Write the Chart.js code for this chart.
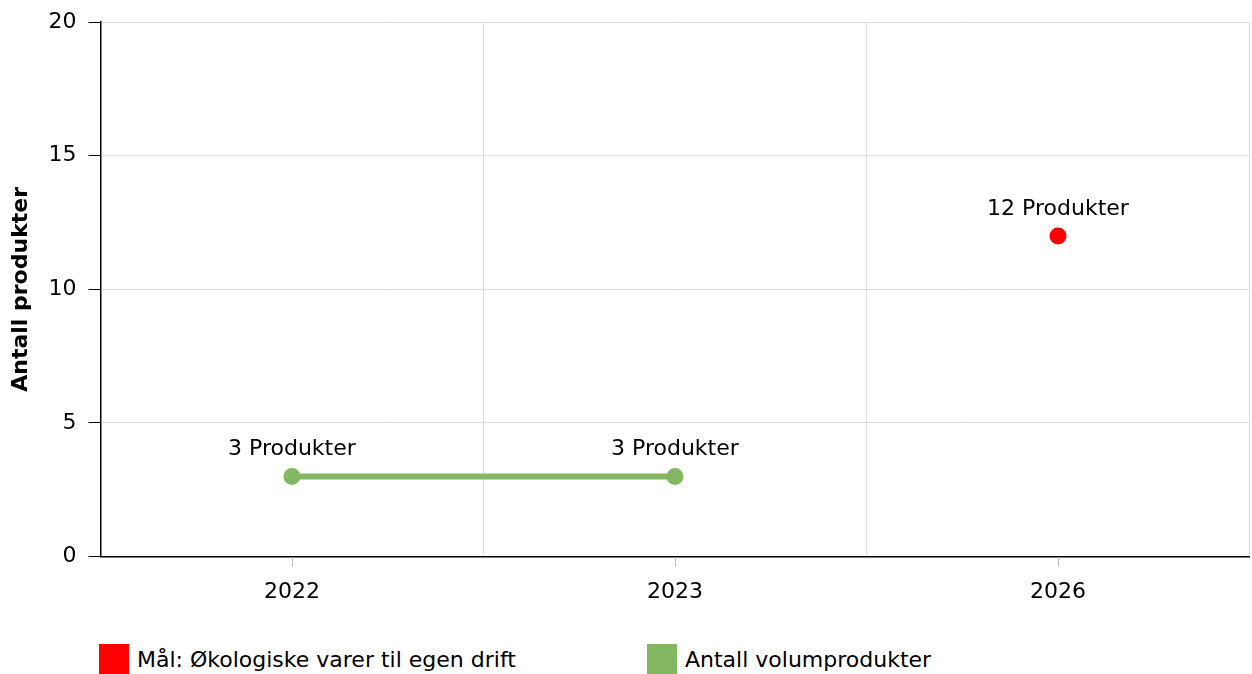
<!DOCTYPE html>
<html>
<head>
<meta charset="utf-8">
<script src="https://cdn.jsdelivr.net/npm/chart.js@4"></script>
<style>
  html, body { margin: 0; background: #fff; font-family: "DejaVu Sans", sans-serif; overflow: hidden; }
  #wrap { position: relative; width: 1258px; height: 627px; }
  #legend { position: absolute; top: 644px; left: 99px; display: flex; font-size: 22px; color: #000; }
  .item { display: flex; align-items: center; height: 30px; }
  .box { width: 30px; height: 30px; margin-right: 8px; }
</style>
</head>
<body>
<div id="wrap"><canvas id="myChart"></canvas></div>
<div id="legend"></div>
<script>
const years = ['2022', '2023', '2026'];
const goalValues = [null, null, 12];
const volumeValues = [3, 3, null];
const goalLabel = 'Mål: Økologiske varer til egen drift';
const volumeLabel = 'Antall volumprodukter';
const yTicks = [0, 5, 10, 15, 20];

const FONT = '"DejaVu Sans", sans-serif';

// labels above each point
const valueLabels = {
  id: 'valueLabels',
  afterDatasetsDraw(chart) {
    const ctx = chart.ctx;
    ctx.save();
    ctx.font = '22px ' + FONT;
    ctx.fillStyle = '#000';
    ctx.textAlign = 'center';
    ctx.textBaseline = 'middle';
    chart.data.datasets.forEach((ds, i) => {
      chart.getDatasetMeta(i).data.forEach((pt, j) => {
        const v = ds.data[j];
        if (v === null || v === undefined) return;
        ctx.fillText(v + ' Produkter', pt.x, pt.y - 27);
      });
    });
    ctx.restore();
  }
};

// small grey tick marks at the category centres
const xTickMarks = {
  id: 'xTickMarks',
  afterDraw(chart) {
    const ctx = chart.ctx;
    const x = chart.scales.x;
    const bottom = chart.chartArea.bottom;
    ctx.save();
    ctx.strokeStyle = '#bbb';
    ctx.lineWidth = 1;
    years.forEach((y, i) => {
      const px = Math.round(x.getPixelForValue(i)) + 0.5;
      ctx.beginPath();
      ctx.moveTo(px, bottom + 1);
      ctx.lineTo(px, bottom + 10);
      ctx.stroke();
    });
    ctx.restore();
  }
};

const chart = new Chart(document.getElementById('myChart'), {
  type: 'line',
  data: {
    labels: years,
    datasets: [
      {
        label: goalLabel,
        data: goalValues,
        showLine: false,
        backgroundColor: '#ff0000',
        borderColor: '#ff0000',
        pointBackgroundColor: '#ff0000',
        pointBorderWidth: 0,
        pointRadius: 8.5,
        pointHoverRadius: 8.5
      },
      {
        label: volumeLabel,
        data: volumeValues,
        backgroundColor: '#84b761',
        borderColor: '#84b761',
        borderWidth: 6,
        pointBackgroundColor: '#84b761',
        pointBorderWidth: 0,
        pointRadius: 8.5,
        pointHoverRadius: 8.5,
        spanGaps: false
      }
    ]
  },
  options: {
    responsive: true,
    maintainAspectRatio: false,
    animation: false,
    layout: { padding: { top: 0, right: 1, left: 8, bottom: 0 } },
    plugins: {
      legend: { display: false },
      tooltip: { enabled: false }
    },
    scales: {
      x: {
        offset: true,
        grid: { offset: true, color: '#dddddd', drawTicks: false },
        border: { color: '#000', width: 1.5 },
        ticks: { color: '#000', font: { family: FONT, size: 22 }, padding: 22 }
      },
      y: {
        min: 0,
        max: 20,
        afterBuildTicks: (axis) => { axis.ticks = yTicks.map(v => ({ value: v })); },
        grid: { color: '#dddddd', tickColor: '#000', tickLength: 12 },
        border: { color: '#000', width: 1.5 },
        ticks: { color: '#000', font: { family: FONT, size: 22, lineHeight: 0.92 }, padding: 12 },
        title: {
          display: true,
          text: 'Antall produkter',
          color: '#000',
          font: { family: FONT, size: 22, weight: 'bold' },
          padding: { top: 0, bottom: 2 }
        }
      }
    }
  },
  plugins: [valueLabels, xTickMarks]
});

// html legend from the datasets
const legend = document.getElementById('legend');
chart.data.datasets.forEach((ds, i) => {
  const item = document.createElement('div');
  item.className = 'item';
  item.style.width = i === 0 ? '548px' : 'auto';
  item.innerHTML = '<span class="box" style="background:' + ds.backgroundColor + '"></span><span>' + ds.label + '</span>';
  legend.appendChild(item);
});
</script>
</body>
</html>
